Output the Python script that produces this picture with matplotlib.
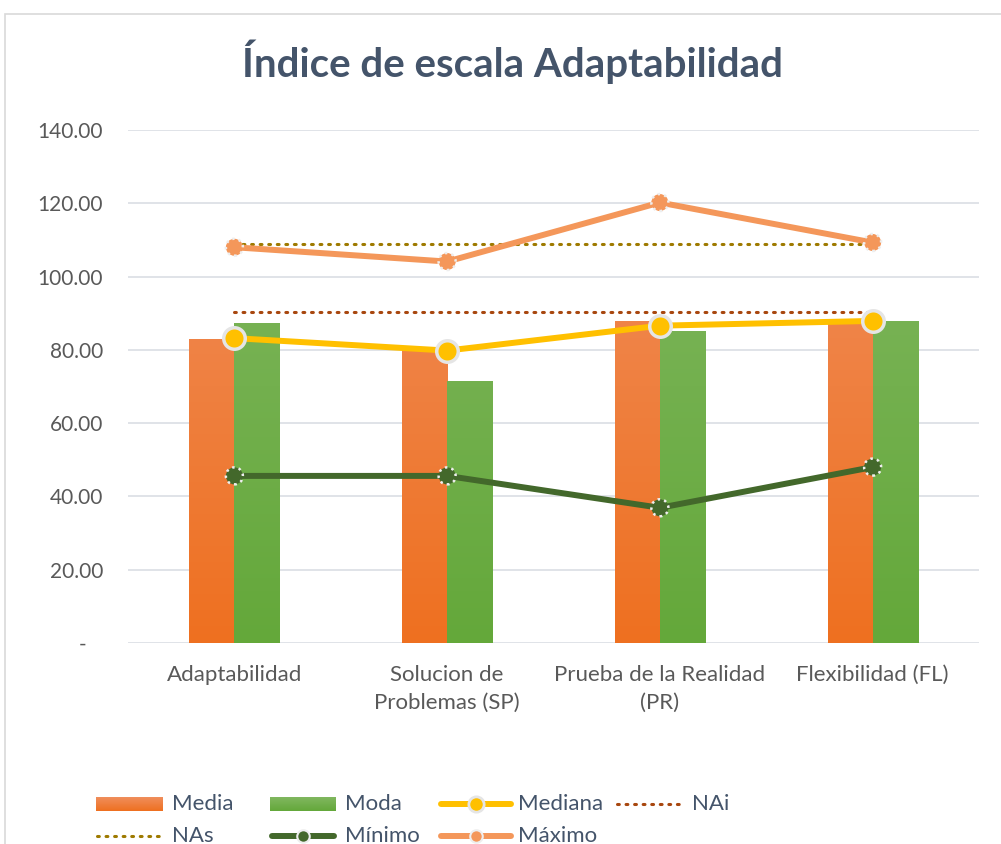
import matplotlib
matplotlib.use("Agg")
import matplotlib.pyplot as plt
import numpy as np
from matplotlib.lines import Line2D
from matplotlib.patches import Rectangle

categories = ["Adaptabilidad", "Solucion de\nProblemas (SP)", "Prueba de la Realidad\n(PR)", "Flexibilidad (FL)"]
media = [83.0, 80.9, 87.9, 87.9]
moda = [87.4, 71.5, 85.2, 87.9]
mediana = [83.2, 79.8, 86.6, 87.9]
nai = [90.3, 90.3, 90.3, 90.3]
nas = [108.9, 108.9, 108.9, 108.9]
minimo = [45.6, 45.6, 36.9, 48.0]
maximo = [108.0, 104.1, 120.2, 109.3]
yticks = [0, 20, 40, 60, 80, 100, 120, 140]
ylabels = ["-   ", "20.00", "40.00", "60.00", "80.00", "100.00", "120.00", "140.00"]

FONT = ["Lato", "DejaVu Sans"]
plt.rcParams["font.family"] = FONT
TXT = "#595959"
LEGTXT = "#44546A"

C_MEDIA_TOP, C_MEDIA_BOT = "#F09060", "#EE7020"
C_MODA_TOP, C_MODA_BOT = "#82B862", "#64A83A"
C_MED = "#FFC000"
C_NAI = "#A8470F"
C_NAS = "#9E7A00"
C_MIN = "#43682B"
C_MAX = "#F4975A"
DOT = (0, (0.6, 2.2))

W, H = 1001, 844
fig = plt.figure(figsize=(W/100, H/100), dpi=100)
fig.patches.append(Rectangle((5/W, -0.1), 1.1, 1 - 14/H + 0.1, transform=fig.transFigure,
                             fill=False, edgecolor="#D9D9D9", lw=1.2, zorder=0))

ax = fig.add_axes([128/W, 1 - 643/H, (979-128)/W, (643-130)/H])
x = np.arange(len(categories))
w = 0.212

def grad_bar(ax, xs, vals, top, bottom, left_offset):
    bars = ax.bar(xs + left_offset, vals, width=w, align="edge", color="none",
                  edgecolor="none", zorder=2)
    cmap = matplotlib.colors.LinearSegmentedColormap.from_list("g", [bottom, top])
    grad = np.linspace(0, 1, 256).reshape(-1, 1)
    for b in bars:
        x0 = b.get_x()
        im = ax.imshow(grad, cmap=cmap, origin="lower", aspect="auto",
                       extent=[x0, x0 + b.get_width(), 0, 140], zorder=2)
        im.set_clip_path(b)
    return bars

grad_bar(ax, x, media, C_MEDIA_TOP, C_MEDIA_BOT, -w)
grad_bar(ax, x, moda, C_MODA_TOP, C_MODA_BOT, 0)

ax.plot(x, nai, linestyle=DOT, color=C_NAI, lw=2.2, dash_capstyle="round", zorder=3)
ax.plot(x, nas, linestyle=DOT, color=C_NAS, lw=2.2, dash_capstyle="round", zorder=3)

ax.plot(x, maximo, color=C_MAX, lw=4.3, zorder=4, solid_capstyle="round")
ax.scatter(x, maximo, s=150, color=C_MAX, edgecolors="#EEEEEE", linewidths=1.8, linestyles=":", zorder=5)
ax.plot(x, minimo, color=C_MIN, lw=4.3, zorder=4, solid_capstyle="round")
ax.scatter(x, minimo, s=150, color=C_MIN, edgecolors="#EEEEEE", linewidths=1.8, linestyles=":", zorder=5)
ax.plot(x, mediana, color=C_MED, lw=4.3, zorder=6, solid_capstyle="round")
ax.scatter(x, mediana, s=240, color=C_MED, edgecolors="#E5E5E5", linewidths=2.5, zorder=7)

ax.set_xlim(-0.5, 3.5)
ax.set_ylim(0, 140)
ax.set_yticks(yticks)
ax.set_yticklabels(ylabels)
ax.set_xticks(x)
ax.set_xticklabels(categories, linespacing=1.5, va="top")
ax.tick_params(length=0, colors=TXT)
ax.tick_params(axis="y", pad=18, labelsize=15)
ax.tick_params(axis="x", pad=16, labelsize=16)
ax.grid(axis="y", color="#DDE1E6", lw=1.3, zorder=0)
ax.set_axisbelow(True)
for s in ax.spines.values():
    s.set_visible(False)

fig.text(513/W, 1 - 62/H, "Índice de escala Adaptabilidad", ha="center", va="center",
         fontsize=29, fontweight="bold", color="#44546A")

# Legend (Excel-style, equal-width columns)
def fx(px):
    return px / W

def fy(py):
    return 1 - py / H

def leg_text(px, py, s):
    fig.text(fx(px), fy(py), s, ha="left", va="center", fontsize=16, color=LEGTXT)

def leg_patch(x0, x1, py, top, bot):
    cmap = matplotlib.colors.LinearSegmentedColormap.from_list("l", [bot, top])
    lax = fig.add_axes([fx(x0), fy(py + 7), fx(x1 - x0), 14 / H])
    lax.imshow(np.linspace(0, 1, 64).reshape(-1, 1), cmap=cmap, origin="lower", aspect="auto")
    lax.set_axis_off()

def leg_line(x0, x1, py, color, lw, ls="-", marker=None, ms=0, mfc=None, mec=None, mew=0):
    fig.add_artist(Line2D([fx(x0), fx(x1)], [fy(py), fy(py)], color=color, lw=lw, linestyle=ls,
                          dash_capstyle="round", solid_capstyle="round", transform=fig.transFigure))
    if marker:
        fig.add_artist(Line2D([fx((x0 + x1) / 2)], [fy(py)], marker=marker, markersize=ms,
                              markerfacecolor=mfc, markeredgecolor=mec, markeredgewidth=mew,
                              linestyle="none", transform=fig.transFigure))

r1, r2 = 804, 836
leg_patch(96, 163, r1, C_MEDIA_TOP, C_MEDIA_BOT)
leg_text(172, r1, "Media")
leg_patch(270, 336, r1, C_MODA_TOP, C_MODA_BOT)
leg_text(345, r1, "Moda")
leg_line(441, 511, r1, C_MED, 4.3, marker="o", ms=11, mfc=C_MED, mec="#E5E5E5", mew=2)
leg_text(518, r1, "Mediana")
leg_line(617, 684, r1, C_NAI, 2.2, ls=DOT)
leg_text(692, r1, "NAi")
leg_line(97, 162, r2, C_NAS, 2.2, ls=DOT)
leg_text(172, r2, "NAs")
leg_line(272, 334, r2, C_MIN, 4.3, marker="o", ms=9, mfc=C_MIN, mec="#EEEEEE", mew=1.5)
leg_text(345, r2, "Mínimo")
leg_line(441, 511, r2, C_MAX, 4.3, marker="o", ms=9, mfc=C_MAX, mec="#EEEEEE", mew=1.5)
leg_text(518, r2, "Máximo")

fig.savefig("out.png", dpi=100)
